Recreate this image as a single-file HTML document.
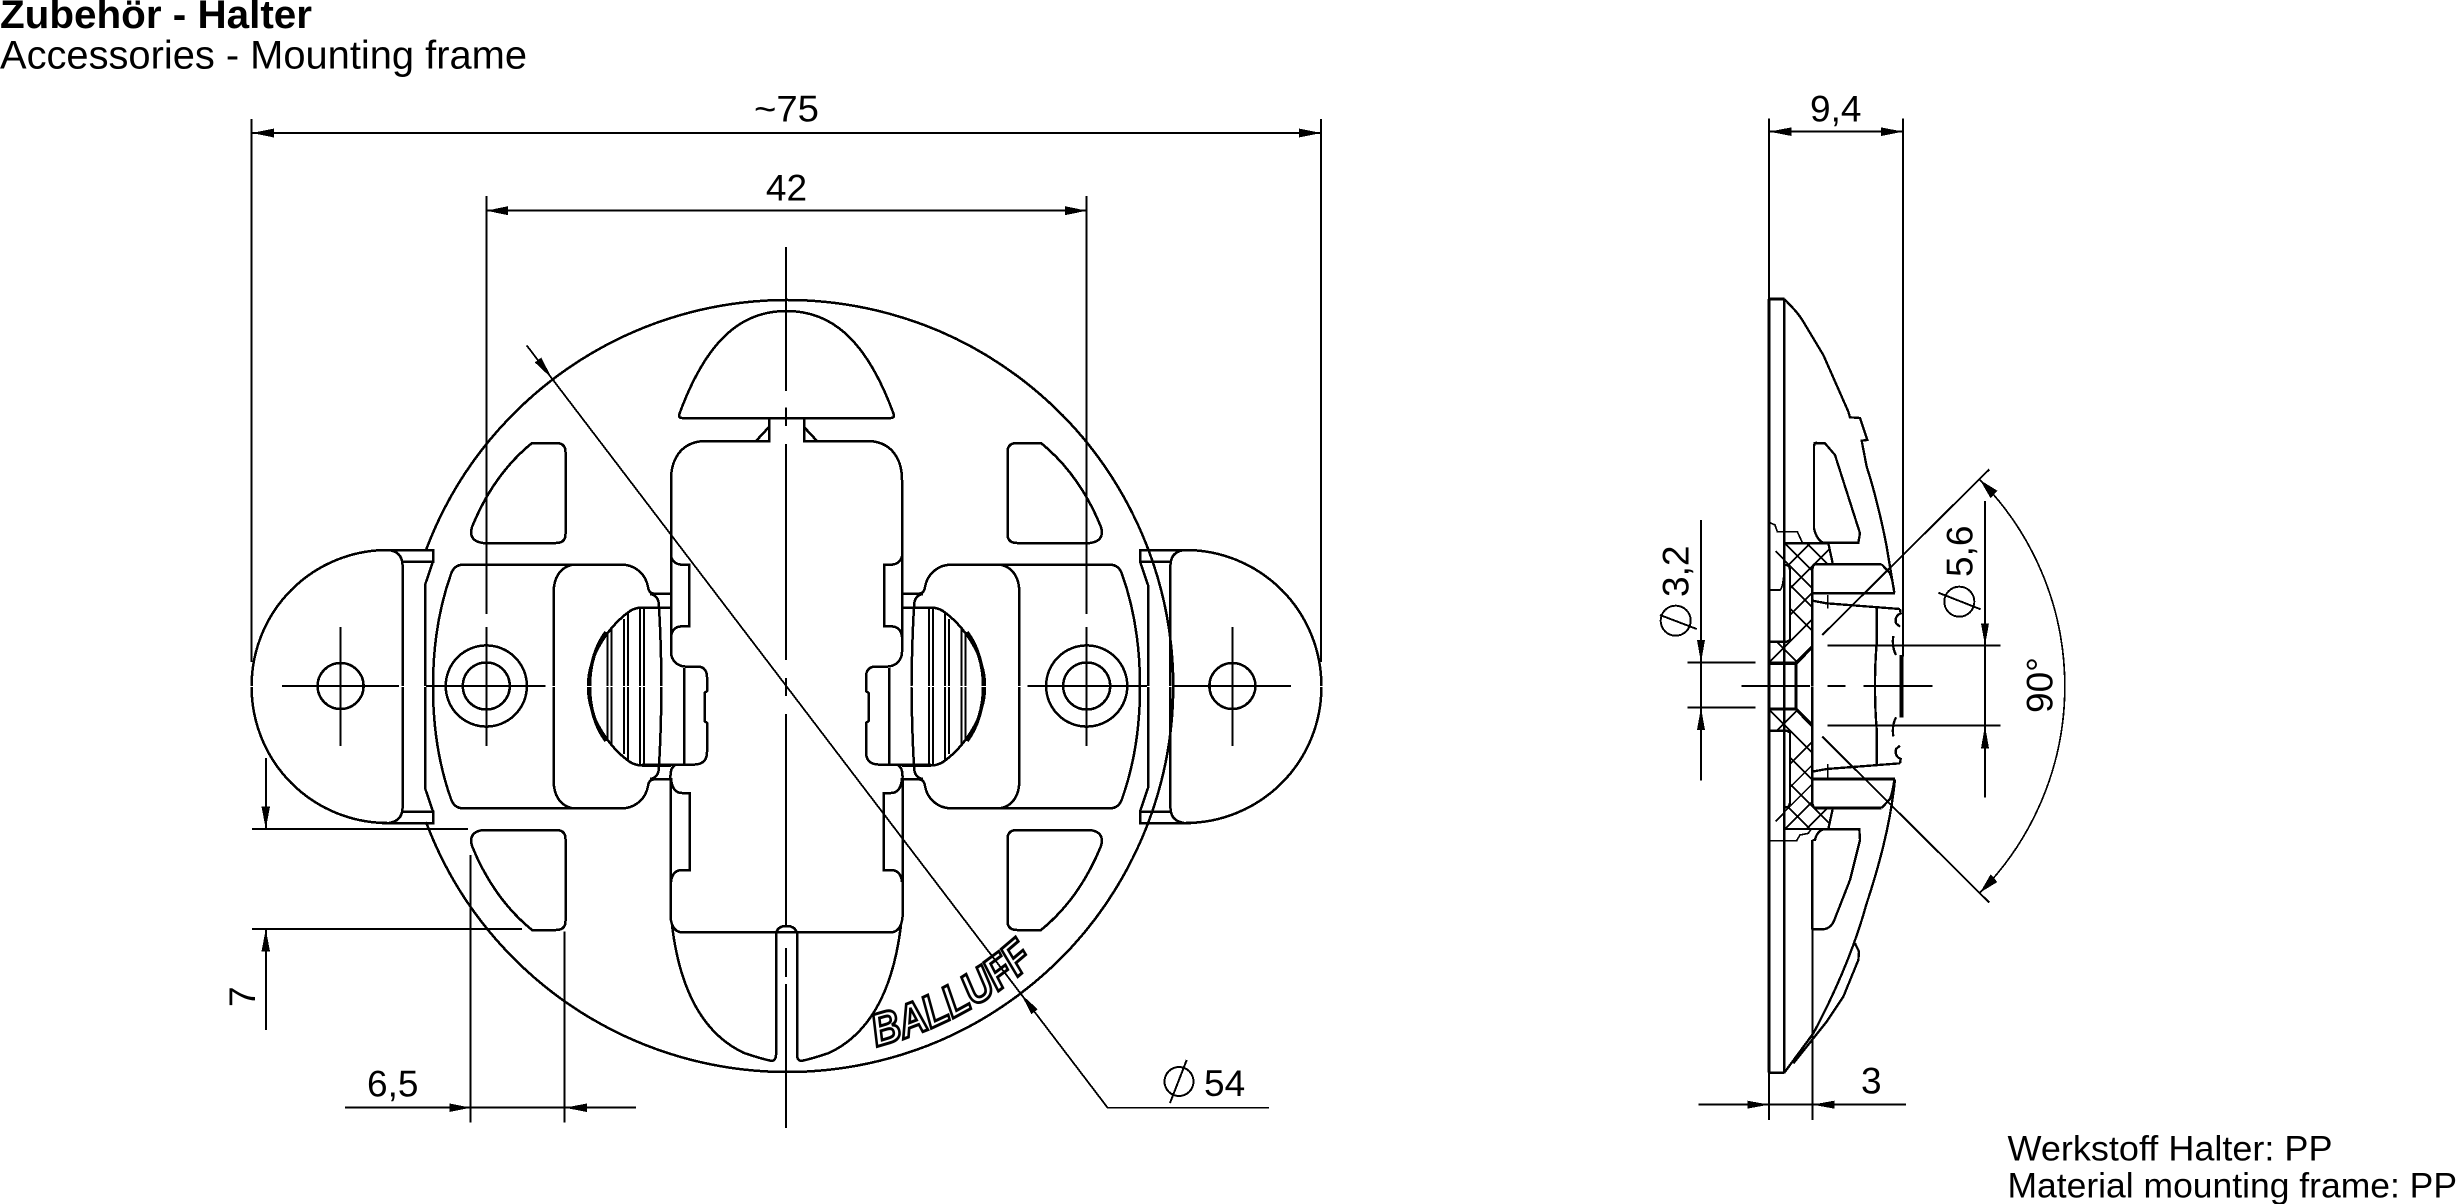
<!DOCTYPE html>
<html><head><meta charset="utf-8"><style>
html,body{margin:0;padding:0;background:#fff;width:2457px;height:1204px;overflow:hidden}
svg{display:block}
text{font-family:"Liberation Sans",sans-serif;fill:#000}
.d{font-size:37px}
</style></head><body>
<svg xmlns="http://www.w3.org/2000/svg" width="2457" height="1204" viewBox="0 0 2457 1204" shape-rendering="crispEdges">
<rect width="2457" height="1204" fill="#fff"/>
<defs>
<clipPath id="hc"><polygon points="375,790 505,790 518,850 465,855 457,870 457,1100 408,1150 330,1150 330,1085 392,1080 392,860 375,855"/></clipPath>
<g id="q" fill="none" stroke="#000" stroke-width="2.5">
  <path d="M532,443H556Q565.5,443 565.5,452V534Q565.5,543 556,543H483Q468,541 472,527C485,495 505,465 532,443Z"/>
  <path d="M433,686C433,640 440,605 451,574Q454,565 463,564.6H622C636,565 646,575 648,587Q649,593.6 654,593.6H671"/>
  <path d="M573,564.6C560,567 553.7,578 553.7,592V686"/>
  <path d="M588,686C588,655 610,625 630,611Q636,607.5 642,607.5H671"/>
  <path d="M589.5,686C589.5,665 596,645 606,632" stroke-width="3.5"/>
  <path d="M607.5,632V686M611.6,628V686M624,619V686M628,613V686M640,607.5V686M644,607.5V686" stroke-width="2"/>
  <path d="M659,607.5Q661,640 661.5,686M650,594Q659,595 659,607"/>
  <path d="M387,550A136,136 0 0 0 251.6,686"/>
  <path d="M382,550H433V561.5H402.6M389,550Q402.6,552 402.6,566V686M433,561.5L425,585V686"/>
</g>
<g id="h" fill="none" stroke="#000" stroke-width="2.5">
  <use href="#q"/>
  <use href="#q" transform="matrix(1 0 0 -1 0 1373)"/>
  <circle cx="340.6" cy="686" r="23"/>
  <circle cx="486.3" cy="686" r="23.5"/>
  <circle cx="486.3" cy="686" r="40.6"/>
  <path d="M282,686H399M340.6,627V746M426,686H545.5M486.3,627V746" stroke-width="2"/>
  <path d="M786.5,311C745,311 708,335 679,415Q679,418 682,418H786.5"/>
  <path d="M769,418V441H706C684,441 671,456 671,480V652C671,660 677,666 685,666.5H699Q707,668 707,677V691L704.5,693V721L707,723V752Q707,764 695,764.5H642"/>
  <path d="M769,427L756,441"/>
  <path d="M671,556Q673,564 681,564.6H689V626.4H681Q672,627 671,637"/>
  <path d="M684,668V764"/>
  <path d="M675,765Q670,768 670.5,778V917Q672,932 682,932.3H786.5"/>
  <path d="M671,778Q672,793 682,793H689.5V870H681Q672,871 671,882"/>
  <path d="M672,925C678,975 695,1030 744,1053Q762,1059 772,1061Q776,1060 776,1055V933Q778,926 786.5,926"/>
</g>
<g id="s" fill="none" stroke="#000" stroke-width="7">
  <g clip-path="url(#hc)" stroke-width="5">
    <path d="M330,680L520,870M330,745L520,935M330,798L460,928M330,855L460,985M330,925L460,1055M330,1065L460,1195M330,910L460,780M330,985L520,795M330,1065L460,935M330,1145L460,1015"/>
  </g>
  <path d="M347,813L375,841" stroke-width="5"/>
  <path d="M375,790H505L518,850"/>
  <path d="M373,855H380Q390,858 390,870V1080L380,1085H330"/>
  <path d="M665,853H465Q457,855 457,870V1218" stroke-width="8"/>
  <path d="M457,1100L408,1150H330M408,1150V1218" stroke-width="10"/>
  <path d="M665,853L690,880Q698,900 703,938"/>
  <path d="M458,940H705" stroke-width="8"/>
  <path d="M457,962L500,970L720,987"/>
  <path d="M503,945V985" stroke-width="5"/>
  <path d="M650,985V1090Q645,1150 645,1218"/>
  <path d="M720,987L722,1000Q703,1008 708,1030L720,1040M700,1068Q695,1100 708,1125M722,1125V1218"/>
  <path d="M725,1125V1218" stroke-width="12"/>
</g>
</defs>

<!-- titles -->
<text x="0" y="28" font-size="40" font-weight="bold" textLength="312" lengthAdjust="spacingAndGlyphs">Zubehör - Halter</text>
<text x="0" y="68.3" font-size="40" textLength="527" lengthAdjust="spacingAndGlyphs">Accessories - Mounting frame</text>
<text x="2007.5" y="1160.7" font-size="35.3" textLength="325" lengthAdjust="spacingAndGlyphs">Werkstoff Halter: PP</text>
<text x="2007.5" y="1197.3" font-size="35.3" textLength="449.5" lengthAdjust="spacingAndGlyphs">Material mounting frame: PP</text>

<!-- front view -->
<use href="#h"/>
<use href="#h" transform="matrix(-1 0 0 1 1573 0)"/>
<path d="M426,550A386,386 0 1 1 426,822" fill="none" stroke="#000" stroke-width="2.5"/>

<!-- BALLUFF -->
<path id="ba" d="M876.5,1046.5A371,371 0 0 0 1034.7,962" fill="none" stroke="none"/>
<text font-size="46" font-weight="bold" font-style="italic" style="fill:#fff" stroke="#000" stroke-width="3"><textPath href="#ba" textLength="182" lengthAdjust="spacingAndGlyphs">BALLUFF</textPath></text>

<!-- thin lines front -->
<g fill="none" stroke="#000" stroke-width="2">
  <path d="M251.6,119V662M1321,119V662"/>
  <path d="M486.3,196V614M1086.7,196V614"/>
  <path d="M251.6,133H1321M486.3,210.7H1086.7"/>
  <path d="M786,247V391M786,407.5V426M786,444V660M786,678V696M786,714V926M786,948V977M786,984V1128"/>
  <path d="M265.8,758V829M265.8,929V1030"/>
  <path d="M252,829H468M252,929H522"/>
  <path d="M345,1107.7H636M470.7,855V1122.7M564.7,931.7V1122.7"/>
  <path d="M526.7,345.4L1107.6,1107.7H1269" stroke-width="1.8"/>
  <circle cx="1179" cy="1081.5" r="14.5"/>
  <path d="M1186.7,1060L1170,1103"/>
</g>
<g fill="#000">
  <polygon points="251.6,133 274,128.5 274,137.5"/>
  <polygon points="1321,133 1299,128.5 1299,137.5"/>
  <polygon points="486.3,210.7 508,206.2 508,215.2"/>
  <polygon points="1086.7,210.7 1065,206.2 1065,215.2"/>
  <polygon points="265.8,829 261.5,806.5 270,806.5"/>
  <polygon points="265.8,929 261.5,951.5 270,951.5"/>
  <polygon points="470.7,1107.7 449.5,1103.5 449.5,1112"/>
  <polygon points="564.7,1107.7 587,1103.5 587,1112"/>
  <polygon points="552.4,379 541.2,357.6 534.8,362.4"/>
  <polygon points="1021,994 1037.8,1009.3 1031.4,1014.1"/>
</g>
<text class="d" x="754" y="121.7" textLength="65" lengthAdjust="spacingAndGlyphs">~75</text>
<text class="d" x="786.5" y="200.7" text-anchor="middle">42</text>
<text class="d" x="367" y="1096.7">6,5</text>
<text class="d" x="1204" y="1096">54</text>
<text class="d" transform="translate(255,1007) rotate(-90)">7</text>

<!-- side view -->
<g transform="translate(1660,280) scale(.33333)">
  <use href="#s"/>
  <use href="#s" transform="matrix(1 0 0 -1 0 2437)"/>
  <g fill="none" stroke="#000" stroke-width="7">
    <path d="M327,57V2378" stroke-width="8"/>
    <path d="M373,57V2378" stroke-width="8"/>
    <path d="M327,57H373M327,2378H373" stroke-width="8"/>
    <path d="M373,57L390,75Q415,100 430,125L490,225L565,395L570,412L600,414L622,480L605,482L620,560C640,620 665,720 680,800L703,938"/>
    <path d="M460,490H495L525,525L600,760L595,788H490Q470,780 462,745V500Q462,490 470,487"/>
    <path d="M330,728L345,735L352,755H412L428,790" stroke-width="5"/>
    <path d="M330,930H360Q368,925 372,880" stroke-width="5"/>
    <path d="M705,1498C695,1600 670,1720 620,1870C590,1980 540,2110 460,2260L373,2378"/>
    <path d="M585,1990L597,2015L595,2040L550,2150L500,2225L400,2350"/>
    <path d="M458,1680H465Q470,1655 490,1648H598L600,1680L570,1800L525,1915Q515,1945 490,1948H458"/>
    <path d="M330,1682H410L420,1665L445,1660L455,1645" stroke-width="5"/>
    <path d="M457,1680V1948" stroke-width="8"/>
  </g>
  <g fill="none" stroke="#000" stroke-width="5.8">
    <path d="M327,-485V2520M729,-485V1130M457,1948V2520"/>
    <path d="M327,-445H729"/>
    <path d="M115,2474H738"/>
    <path d="M245,1218H450M503,1218H557M610,1218H818"/>
    <path d="M503,1097H1022M503,1337H1022M975,663V1553"/>
    <path d="M82,1148H287M82,1283H287M123,720V1502"/>
    <path d="M487,1065L988,568M487,1370L988,1868" />
    <path d="M960,600A880,880 0 0 1 960,1838" stroke-width="5"/>
    <path d="M898,965m-45,0a45,45 0 1 0 90,0a45,45 0 1 0 -90,0M835,938L962,988"/>
    <path d="M47,1022m-45,0a45,45 0 1 0 90,0a45,45 0 1 0 -90,0M0,1005L110,1047"/>
  </g>
  <g fill="#000">
    <polygon points="327,-445 395,-458 395,-432"/>
    <polygon points="729,-445 663,-458 663,-432"/>
    <polygon points="975,1097 963,1030 987,1030"/>
    <polygon points="975,1337 963,1405 987,1405"/>
    <polygon points="123,1148 111,1080 135,1080"/>
    <polygon points="123,1283 111,1350 135,1350"/>
    <polygon points="960,600 1012,632 992,655"/>
    <polygon points="960,1838 1012,1806 992,1783"/>
    <polygon points="327,2474 262,2462 262,2486"/>
    <polygon points="457,2474 523,2462 523,2486"/>
  </g>
</g>
<text class="d" x="1810" y="121.7">9,4</text>
<text class="d" x="1861" y="1093.3">3</text>
<text class="d" transform="translate(1972.7,577) rotate(-90)">5,6</text>
<text class="d" transform="translate(1688.3,597) rotate(-90)">3,2</text>
<text class="d" transform="translate(2052.7,713) rotate(-90)">90°</text>
</svg>
</body></html>
